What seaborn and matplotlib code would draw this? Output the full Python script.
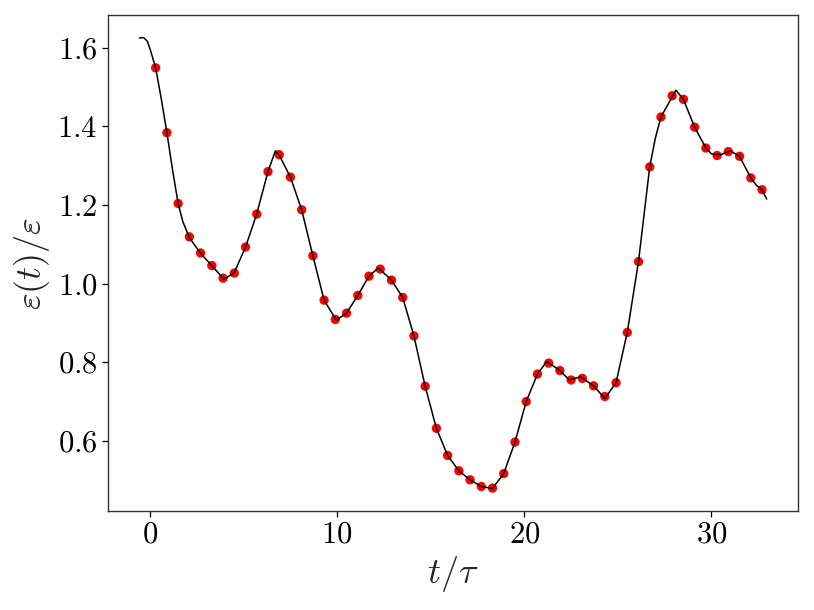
import matplotlib
matplotlib.use("Agg")
import matplotlib.pyplot as plt
import seaborn as sns
import pandas as pd
from matplotlib.ticker import FormatStrFormatter, MultipleLocator

# sampled points (red dots)
dot_t = [0.3, 0.9, 1.5, 2.1, 2.7, 3.3, 3.9, 4.5, 5.1, 5.7, 6.3, 6.9, 7.5, 8.1,
         8.7, 9.3, 9.9, 10.5, 11.1, 11.7, 12.3, 12.9, 13.5, 14.1, 14.7, 15.3,
         15.9, 16.5, 17.1, 17.7, 18.3, 18.9, 19.5, 20.1, 20.7, 21.3, 21.9, 22.5,
         23.1, 23.7, 24.3, 24.9, 25.5, 26.1, 26.7, 27.3, 27.9, 28.5, 29.1, 29.7,
         30.3, 30.9, 31.5, 32.1, 32.7]
dot_y = [1.549, 1.384, 1.204, 1.119, 1.078, 1.046, 1.014, 1.027, 1.093, 1.177,
         1.285, 1.328, 1.271, 1.188, 1.071, 0.958, 0.909, 0.925, 0.970, 1.019,
         1.037, 1.009, 0.965, 0.867, 0.739, 0.632, 0.563, 0.524, 0.501, 0.484,
         0.480, 0.517, 0.597, 0.700, 0.770, 0.798, 0.779, 0.755, 0.759, 0.740,
         0.713, 0.748, 0.876, 1.056, 1.297, 1.424, 1.478, 1.469, 1.398, 1.345,
         1.326, 1.336, 1.324, 1.269, 1.239]

# continuous curve (black line)
line_t = [-0.57, -0.35, -0.15, 0.0, 0.3, 0.6, 0.9, 1.2, 1.5, 1.75, 2.1, 2.7,
          3.3, 3.95, 4.5, 5.1, 5.7, 6.3, 6.7, 6.9, 7.5, 8.1, 8.7, 9.3, 9.95,
          10.5, 11.1, 11.7, 12.2, 12.9, 13.5, 14.1, 14.7, 15.3, 15.9, 16.5,
          17.1, 17.7, 18.3, 18.9, 19.5, 20.1, 20.7, 21.2, 21.9, 22.4, 23.0,
          23.7, 24.3, 24.9, 25.5, 26.1, 26.7, 27.0, 27.3, 27.9, 28.1, 28.5,
          29.1, 29.7, 30.0, 30.5, 31.0, 31.5, 32.1, 32.4, 32.7, 32.95]
line_y = [1.625, 1.626, 1.617, 1.597, 1.549, 1.470, 1.384, 1.290, 1.204, 1.158,
          1.117, 1.077, 1.046, 1.011, 1.028, 1.093, 1.177, 1.285, 1.338, 1.327,
          1.271, 1.188, 1.071, 0.958, 0.907, 0.925, 0.970, 1.019, 1.040, 1.009,
          0.965, 0.867, 0.739, 0.632, 0.563, 0.524, 0.501, 0.484, 0.479, 0.517,
          0.597, 0.700, 0.770, 0.802, 0.779, 0.755, 0.763, 0.740, 0.708, 0.748,
          0.876, 1.056, 1.297, 1.370, 1.424, 1.475, 1.492, 1.469, 1.398, 1.345,
          1.330, 1.328, 1.338, 1.324, 1.269, 1.250, 1.239, 1.215]

x_ticks = [0, 10, 20, 30]
y_ticks = [0.6, 0.8, 1.0, 1.2, 1.4, 1.6]

sns.set_style("ticks")
plt.rcParams["mathtext.fontset"] = "cm"
plt.rcParams["font.family"] = ["serif"]
plt.rcParams["font.serif"] = ["cmr10", "DejaVu Serif"]
plt.rcParams["axes.formatter.use_mathtext"] = True

fig = plt.figure(figsize=(8.14, 6.10), dpi=100)
ax = fig.add_axes([0.1327, 0.1623, 0.8477, 0.8131])

dots = pd.DataFrame({"t": dot_t, "y": dot_y})
line = pd.DataFrame({"t": line_t, "y": line_y})

sns.scatterplot(data=dots, x="t", y="y", ax=ax, color="red", s=45,
                edgecolor="none", zorder=2)
sns.lineplot(data=line, x="t", y="y", ax=ax, color="black", linewidth=1.1,
             zorder=3, sort=False)

ax.set_xticks(x_ticks)
ax.set_yticks(y_ticks)
ax.xaxis.set_major_formatter(FormatStrFormatter(r"$%d$"))
ax.yaxis.set_major_formatter(FormatStrFormatter(r"$%.1f$"))
ax.tick_params(labelsize=22, direction="out", length=4, width=0.9, colors="black")
for sp in ax.spines.values():
    sp.set_color("#333333")
    sp.set_linewidth(1.0)

ax.set_xlabel(r"$t/\tau$", fontsize=26)
ax.set_ylabel(r"$\varepsilon(t)/\varepsilon$", fontsize=26)

fig.savefig("out.png", dpi=100)
